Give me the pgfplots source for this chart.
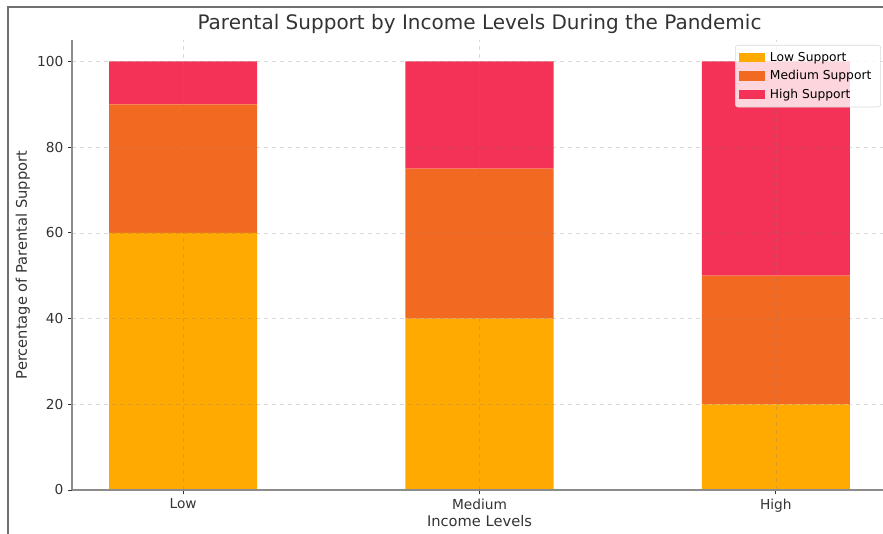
\documentclass[border=0pt]{standalone}
\usepackage{pgfplots}
\pgfplotsset{compat=1.18}
\usepackage{fontspec}
\setmainfont{DejaVu Sans}

\definecolor{lowc}{HTML}{FFAA00}
\definecolor{medc}{HTML}{F26A21}
\definecolor{highc}{HTML}{F43157}
\definecolor{spine}{HTML}{8C8C8C}
\definecolor{txt}{HTML}{333333}

\begin{document}
\begin{tikzpicture}
\useasboundingbox (0,0) rectangle (662.25pt,399.75pt);
\clip (0,0) rectangle (662.25pt,399.75pt);
% outer frame
\draw[spine!80!black, line width=1.1pt] (6pt,-10pt) -- (6pt,394.5pt) -- (680pt,394.5pt);
\begin{axis}[
  at={(54pt,32.25pt)}, anchor=south west,
  scale only axis, width=611.25pt, height=337.5pt,
  ybar stacked, bar width=0.5,
  xmin=-0.375, xmax=2.375, ymin=0, ymax=105,
  xtick={0,1,2}, xticklabels={Low,Medium,High},
  ytick={0,20,40,60,80,100},
  axis x line*=bottom, axis y line*=left,
  axis line style={-, spine, line width=0.8pt},
  tick align=outside, major tick length=3pt,
  tick style={txt, line width=0.6pt},
  grid=major, major grid style={dashed, draw=gray, draw opacity=0.3, line width=0.5pt},
  axis on top,
  /pgf/number format/assume math mode=true,
  tick label style={font=\fontsize{10.3}{12}\selectfont, text=txt},
  label style={font=\fontsize{11}{13}\selectfont, text=txt},
  xlabel={Income Levels}, ylabel={Percentage of Parental Support},
  xlabel style={yshift=4pt}, ylabel style={yshift=-1.5pt},
  title={Parental Support by Income Levels During the Pandemic},
  title style={font=\fontsize{15}{17}\selectfont, text=txt, yshift=-5pt},
  legend style={at={(0.9926,0.9889)}, anchor=north east,
    fill=white, fill opacity=0.8, text opacity=1, draw=gray!30,
    rounded corners=2pt, font=\fontsize{9.2}{11}\selectfont,
    row sep=1.5pt, inner sep=3pt, nodes={inner xsep=4pt}},
  legend cell align=left,
  legend image code/.code={\fill[#1, sharp corners, fill opacity=1] (0pt,-3.5pt) rectangle (19pt,3.5pt);},
]
\addplot[fill=lowc, draw=none] coordinates {(0,60) (1,40) (2,20)};
\addplot[fill=medc, draw=none] coordinates {(0,30) (1,35) (2,30)};
\addplot[fill=highc, draw=none] coordinates {(0,10) (1,25) (2,50)};
\legend{Low Support, Medium Support, High Support}
\end{axis}
\end{tikzpicture}
\end{document}
